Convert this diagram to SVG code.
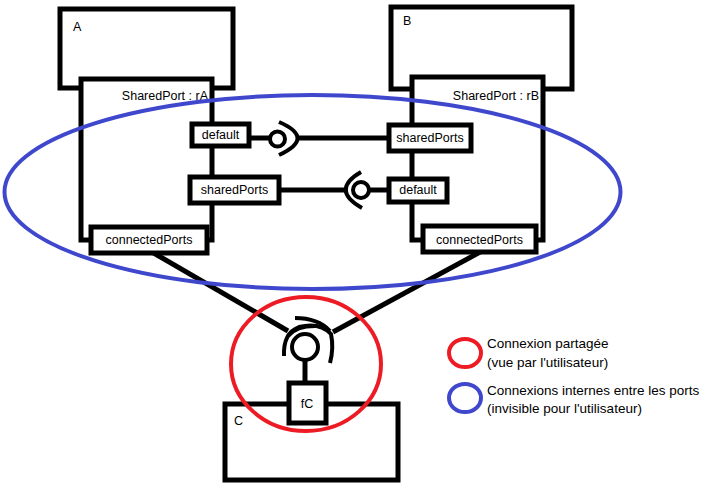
<svg xmlns="http://www.w3.org/2000/svg" width="712" height="489" viewBox="0 0 712 489">
<style>
.box{fill:#fff;stroke:#000;stroke-width:5}
.ln{fill:none;stroke:#000;stroke-width:5}
.lol{fill:none;stroke:#000;stroke-width:4}
.t{font-family:"Liberation Sans",Arial,sans-serif;font-size:12.5px;fill:#000}
.lg{font-family:"Liberation Sans",Arial,sans-serif;font-size:13.5px;fill:#000}
</style>
<rect width="712" height="489" fill="#fff"/>
<g id="A">
<rect class="box" x="60" y="9" width="173" height="79"/>
<text class="t" x="73" y="31">A</text>
</g>
<g id="rA">
<rect class="box" x="81" y="79" width="131" height="161"/>
<text class="t" x="208" y="100" text-anchor="end">SharedPort : rA</text>
</g>
<g id="B">
<rect class="box" x="391" y="7" width="181" height="82"/>
<text class="t" x="403" y="25">B</text>
</g>
<g id="rB">
<rect class="box" x="412" y="77" width="131" height="163"/>
<text class="t" x="539" y="100" text-anchor="end">SharedPort : rB</text>
</g>
<g id="connectors">
<line class="ln" x1="249" y1="138" x2="269" y2="138"/>
<circle class="lol" cx="277.5" cy="139" r="7.5"/>
<path class="lol" d="M279,122 Q316,138 279,155"/>
<line class="ln" x1="296" y1="138" x2="390" y2="138"/>
<line class="ln" x1="279" y1="190" x2="348" y2="190"/>
<path class="lol" d="M361,172 Q330,190 362,208"/>
<circle class="lol" cx="361" cy="190" r="8"/>
<line class="ln" x1="369" y1="190" x2="390" y2="190"/>
<line class="ln" x1="152" y1="252" x2="288" y2="331"/>
<line class="ln" x1="482" y1="251" x2="333" y2="332"/>
<circle class="lol" cx="305" cy="347" r="13"/>
<path class="lol" d="M284,356 Q283,333 299,327 Q320,322 331,334 Q334,348 330,363"/>
<path class="lol" d="M295,318 Q318,318 330,331"/>
<path class="lol" d="M288,336 Q296,326 315,326"/>
<line class="ln" x1="305" y1="360" x2="305" y2="384"/>
</g>
<g id="A-default">
<rect class="box" x="192" y="124" width="57" height="22"/>
<text class="t" x="220.5" y="139" text-anchor="middle">default</text>
</g>
<g id="A-sharedPorts">
<rect class="box" x="190" y="177" width="89" height="26"/>
<text class="t" x="234.5" y="194" text-anchor="middle">sharedPorts</text>
</g>
<g id="A-connectedPorts">
<rect class="box" x="91" y="227" width="116" height="26"/>
<text class="t" x="149" y="244" text-anchor="middle">connectedPorts</text>
</g>
<g id="B-sharedPorts">
<rect class="box" x="389" y="125" width="82" height="26"/>
<text class="t" x="430" y="142" text-anchor="middle">sharedPorts</text>
</g>
<g id="B-default">
<rect class="box" x="389" y="179" width="58" height="23"/>
<text class="t" x="418" y="194" text-anchor="middle">default</text>
</g>
<g id="B-connectedPorts">
<rect class="box" x="423" y="226" width="113" height="26"/>
<text class="t" x="479.5" y="244" text-anchor="middle">connectedPorts</text>
</g>
<g id="C">
<rect class="box" x="225" y="404" width="173" height="76"/>
<text class="t" x="234" y="425">C</text>
</g>
<g id="fC">
<rect class="box" x="289" y="383" width="37" height="40"/>
<text class="t" x="307" y="408" text-anchor="middle">fC</text>
</g>
<g id="regions">
<ellipse cx="312.5" cy="192" rx="308" ry="97" fill="none" stroke="#3F48CC" stroke-width="4"/>
<ellipse cx="306" cy="364" rx="75" ry="67" fill="none" stroke="#ED1C24" stroke-width="4"/>
</g>
<g id="legend">
<ellipse cx="465" cy="353" rx="16" ry="14" fill="none" stroke="#ED1C24" stroke-width="4"/>
<ellipse cx="465" cy="398" rx="16" ry="14" fill="none" stroke="#3F48CC" stroke-width="4"/>
<text class="lg" x="487" y="348">Connexion partagée</text>
<text class="lg" x="487" y="367">(vue par l'utilisateur)</text>
<text class="lg" x="487" y="395">Connexions internes entre les ports</text>
<text class="lg" x="487" y="413">(invisible pour l'utilisateur)</text>
</g>
</svg>
